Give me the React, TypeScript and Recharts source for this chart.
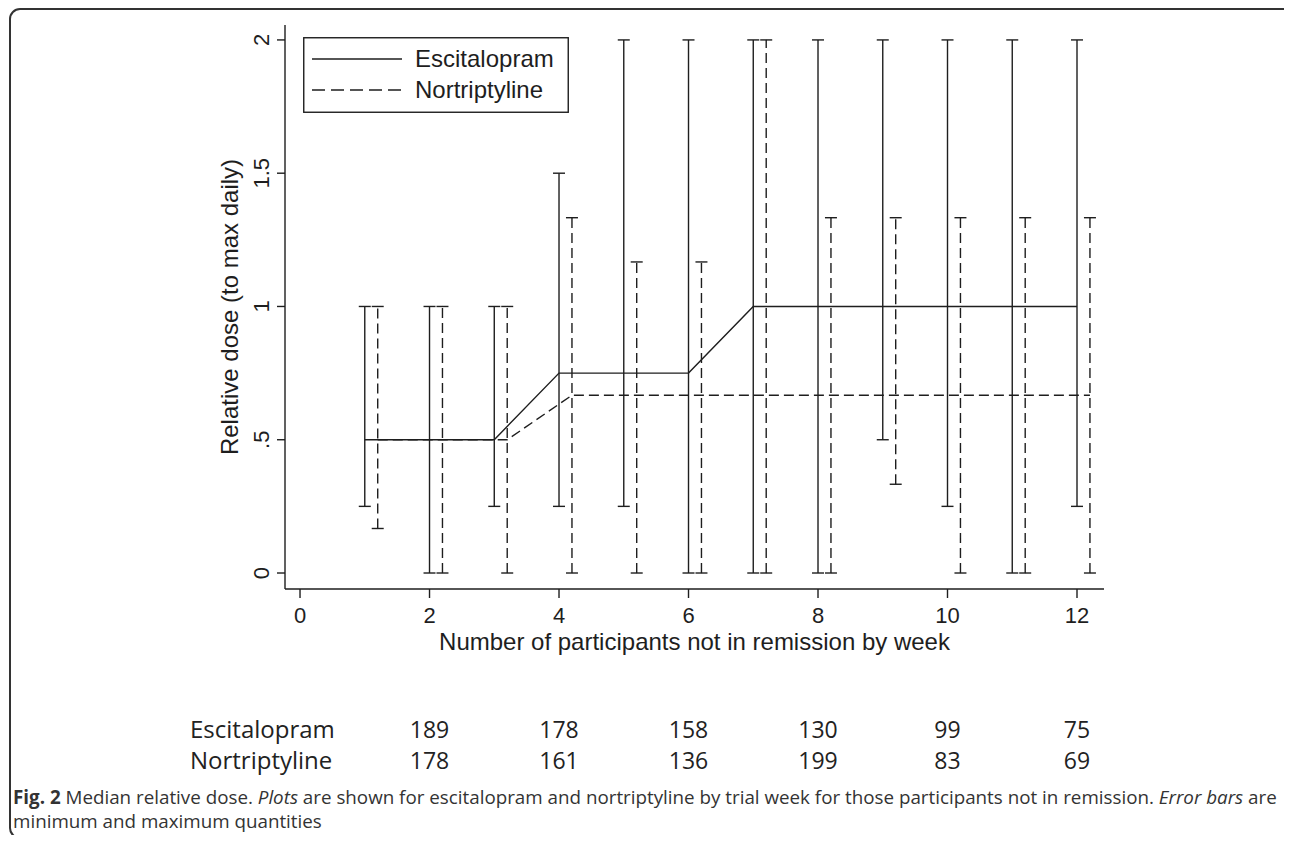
import { ComposedChart, Line, Scatter, ErrorBar, XAxis, YAxis } from "recharts";

// weeks of the trial
const weeks = [1, 2, 3, 4, 5, 6, 7, 8, 9, 10, 11, 12];

// escitalopram: median relative dose, min and max per week
const escMedian = [0.5, 0.5, 0.5, 0.75, 0.75, 0.75, 1, 1, 1, 1, 1, 1];
const escMin = [0.25, 0, 0.25, 0.25, 0.25, 0, 0, 0, 0.5, 0.25, 0, 0.25];
const escMax = [1, 1, 1, 1.5, 2, 2, 2, 2, 2, 2, 2, 2];

// nortriptyline: median relative dose, min and max per week
const norMedian = [0.5, 0.5, 0.5, 0.667, 0.667, 0.667, 0.667, 0.667, 0.667, 0.667, 0.667, 0.667];
const norMin = [0.167, 0, 0, 0, 0, 0, 0, 0, 0.333, 0, 0, 0];
const norMax = [1, 1, 1, 1.333, 1.167, 1.167, 2, 1.333, 1.333, 1.333, 1.333, 1.333];
const norShift = 0.2;

const xTicks = [0, 2, 4, 6, 8, 10, 12];
const yTicks = [0, 0.5, 1, 1.5, 2];
const yTickLabels = ["0", ".5", "1", "1.5", "2"];

// participants not in remission (table under the plot)
const tableWeeks = [2, 4, 6, 8, 10, 12];
const escCounts = [189, 178, 158, 130, 99, 75];
const norCounts = [178, 161, 136, 199, 83, 69];

const INK = "#1e1e1e";
const LW = 1.4;
const PLOT_FONT = '"Liberation Sans", Arial, sans-serif';
const TEXT_FONT = '"Open Sans", sans-serif';
const TITLE_SIZE = 24;

const escData = weeks.map((w, i) => ({
  x: w,
  y: escMedian[i],
  err: [escMedian[i] - escMin[i], escMax[i] - escMedian[i]],
}));

const norData = weeks.map((w, i) => ({
  x: w + norShift,
  y: norMedian[i],
  err: [norMedian[i] - norMin[i], norMax[i] - norMedian[i]],
}));

const norCaps = weeks.flatMap((w, i) => [
  { x: w + norShift, y: norMin[i] },
  { x: w + norShift, y: norMax[i] },
]);

function Cap(props: any) {
  const { cx, cy } = props;
  if (cx == null || cy == null) return null;
  return <line x1={cx - 6} x2={cx + 6} y1={cy} y2={cy} stroke={INK} strokeWidth={LW} />;
}

function XTick({ x, y, payload }: any) {
  return (
    <text x={x} y={y + 15} dy="0.35em" textAnchor="middle" fontSize={22} fontFamily={PLOT_FONT} fill={INK}>
      {payload.value}
    </text>
  );
}

function YTick({ x, y, payload }: any) {
  const label = yTickLabels[yTicks.indexOf(payload.value)];
  return (
    <g transform={`translate(${x - 14},${y}) rotate(-90)`}>
      <text dy="0.35em" textAnchor="middle" fontSize={22} fontFamily={PLOT_FONT} fill={INK}>
        {label}
      </text>
    </g>
  );
}

function YTitle() {
  return (
    <g transform="translate(222,299) rotate(-90)">
      <text dy="0.35em" textAnchor="middle" fontSize={TITLE_SIZE} fontFamily={PLOT_FONT} fill={INK}>
        Relative dose (to max daily)
      </text>
    </g>
  );
}

function LegendBox() {
  return (
    <svg
      width={266}
      height={76}
      style={{ position: "absolute", left: 295, top: 29, background: "#fff" }}
    >
      <rect x={0.75} y={0.75} width={264.5} height={74.5} fill="#fff" stroke={INK} strokeWidth={LW} />
      <line x1={9} x2={99} y1={22} y2={22} stroke={INK} strokeWidth={LW} />
      <line x1={9} x2={99} y1={53} y2={53} stroke={INK} strokeWidth={LW} strokeDasharray="13 6" />
      <text x={112} y={22} dy="0.35em" fontSize={TITLE_SIZE} fontFamily={PLOT_FONT} fill={INK}>
        Escitalopram
      </text>
      <text x={112} y={53} dy="0.35em" fontSize={TITLE_SIZE} fontFamily={PLOT_FONT} fill={INK}>
        Nortriptyline
      </text>
    </svg>
  );
}

const tickX = (w: number) => 292 + w * 64.75;

function CountRow({ label, counts, top }: { label: string; counts: number[]; top: number }) {
  return (
    <>
      <div style={{ position: "absolute", left: 182, top, lineHeight: "28px", fontSize: 24 }}>{label}</div>
      {counts.map((c, i) => (
        <div
          key={i}
          style={{
            position: "absolute",
            left: tickX(tableWeeks[i]) - 40,
            width: 80,
            top,
            textAlign: "center",
            lineHeight: "28px",
            fontSize: 23,
          }}
        >
          {c}
        </div>
      ))}
    </>
  );
}

export default function App() {
  return (
    <div
      style={{
        position: "relative",
        width: 1284,
        height: 835,
        marginBottom: -8,
        overflow: "hidden",
        fontFamily: TEXT_FONT,
        color: "#222",
      }}
    >
      <div
        style={{
          position: "absolute",
          left: 1,
          top: 0,
          width: 1290,
          height: 831,
          border: "2px solid #333",
          borderRadius: 11,
          boxSizing: "border-box",
        }}
      />
      <div style={{ position: "absolute", left: 0, top: 0 }}>
        <ComposedChart width={1200} height={680} margin={{ top: 17, right: 104, left: 0, bottom: 0 }}>
          <XAxis
            type="number"
            dataKey="x"
            domain={[-0.232, 12.417]}
            ticks={xTicks}
            allowDataOverflow
            height={99}
            tickSize={9}
            axisLine={{ stroke: INK, strokeWidth: LW }}
            tickLine={{ stroke: INK, strokeWidth: LW }}
            tick={<XTick />}
            label={{
              value: "Number of participants not in remission by week",
              position: "insideTop",
              offset: 44,
              fontSize: TITLE_SIZE,
              fontFamily: PLOT_FONT,
              fill: INK,
            }}
          />
          <YAxis
            type="number"
            domain={[-0.06, 2.056]}
            ticks={yTicks}
            allowDataOverflow
            width={277}
            tickSize={8}
            axisLine={{ stroke: INK, strokeWidth: LW }}
            tickLine={{ stroke: INK, strokeWidth: LW }}
            tick={<YTick />}
            label={<YTitle />}
          />
          <Line
            data={escData}
            dataKey="y"
            type="linear"
            stroke={INK}
            strokeWidth={LW}
            dot={false}
            isAnimationActive={false}
          >
            <ErrorBar dataKey="err" direction="y" width={6} stroke={INK} strokeWidth={LW} isAnimationActive={false} />
          </Line>
          <Line
            data={norData}
            dataKey="y"
            type="linear"
            stroke={INK}
            strokeWidth={LW}
            strokeDasharray="10 5"
            dot={false}
            isAnimationActive={false}
          >
            <ErrorBar
              dataKey="err"
              direction="y"
              width={0}
              stroke={INK}
              strokeWidth={LW}
              strokeDasharray="10 5"
              isAnimationActive={false}
            />
          </Line>
          <Scatter data={norCaps} dataKey="y" shape={<Cap />} isAnimationActive={false} />
        </ComposedChart>
      </div>
      <LegendBox />
      <CountRow label="Escitalopram" counts={escCounts} top={707} />
      <CountRow label="Nortriptyline" counts={norCounts} top={738} />
      <div
        style={{
          position: "absolute",
          left: 5,
          top: 777,
          fontSize: 18.8,
          lineHeight: "24px",
          whiteSpace: "nowrap",
          color: "#333",
        }}
      >
        <b>Fig. 2</b> Median relative dose. <i>Plots</i> are shown for escitalopram and nortriptyline by trial week for
        those participants not in remission. <i>Error bars</i> are
        <br />
        minimum and maximum quantities
      </div>
    </div>
  );
}
